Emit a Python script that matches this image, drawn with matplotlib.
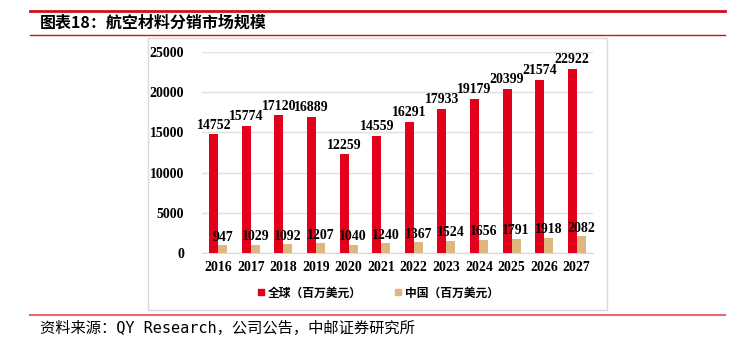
import numpy as np
import matplotlib.pyplot as plt
from matplotlib.patches import Rectangle
from matplotlib.lines import Line2D

years = ['2016', '2017', '2018', '2019', '2020', '2021', '2022', '2023', '2024', '2025', '2026', '2027']
world = [14752, 15774, 17120, 16889, 12259, 14559, 16291, 17933, 19179, 20399, 21574, 22922]
china = [947, 1029, 1092, 1207, 1040, 1240, 1367, 1524, 1656, 1791, 1918, 2082]

RED = '#E2001A'
TAN = '#DEB67E'
CJK = ['Noto Sans CJK SC', 'DejaVu Sans']
SERIF = 'Liberation Serif'

W, H = 746, 342
fig = plt.figure(figsize=(W / 100, H / 100), dpi=100)

def fx(px):
    return px / W

def fy(py):
    return 1 - py / H

# header / footer lines
fig.add_artist(Line2D([fx(30), fx(725)], [fy(10.5), fy(10.5)], color='#D0101B', lw=2))
fig.add_artist(Line2D([fx(30), fx(725)], [fy(35), fy(35)], color='#D0101B', lw=1))
fig.add_artist(Line2D([fx(30), fx(725)], [fy(315), fy(315)], color='#E36A70', lw=1.5))
fig.add_artist(Rectangle((fx(148), fy(310)), fx(607) - fx(148), fy(38) - fy(310),
                         transform=fig.transFigure, fill=False, edgecolor='#DADADA', lw=1))

fig.text(fx(40), fy(23), '图表18：航空材料分销市场规模', family=CJK, fontsize=11.5,
         fontweight='bold', va='center', ha='left')
fig.text(fx(40), fy(328), '资料来源：QY Research，公司公告，中邮证券研究所',
         family=['DejaVu Sans Mono', 'Noto Sans CJK SC'],
         fontsize=11, va='center', ha='left')

ax = fig.add_axes([fx(202), fy(253), fx(593) - fx(202), fy(52) - fy(253)])
x = np.arange(len(years))
bw = 0.276
ax.bar(x - bw / 2, world, bw, color=RED, label='全球（百万美元）', zorder=3)
ax.bar(x + bw / 2, china, bw, color=TAN, label='中国（百万美元）', zorder=3)

for i in range(len(years)):
    ax.annotate(str(world[i]), (x[i] - bw / 2, world[i]), xytext=(0, 2),
                textcoords='offset points', ha='center', va='bottom',
                family=SERIF, fontweight='bold', fontsize=10, zorder=4)
    ax.annotate(str(china[i]), (x[i] + bw / 2, china[i]), xytext=(0, 1),
                textcoords='offset points', ha='center', va='bottom',
                family=SERIF, fontweight='bold', fontsize=10, zorder=4)

ax.set_xlim(-0.5, len(years) - 0.5)
ax.set_ylim(0, 25000)
ax.set_yticks(np.arange(0, 25001, 5000))
ax.set_xticks(x)
ax.set_xticklabels(years)
for lab in ax.get_xticklabels() + ax.get_yticklabels():
    lab.set_family(SERIF)
    lab.set_fontweight('bold')
    lab.set_fontsize(10)
ax.tick_params(axis='both', length=0)
ax.tick_params(axis='y', pad=13)
ax.tick_params(axis='x', pad=6)
ax.grid(axis='y', color='#E0E0E0', lw=1, zorder=0)
for s in ['top', 'right', 'left']:
    ax.spines[s].set_visible(False)
ax.spines['bottom'].set_color('#D9D9D9')

handles = [Line2D([], [], marker='s', ls='none', color=RED, markersize=5),
           Line2D([], [], marker='s', ls='none', color=TAN, markersize=5)]
fig.legend(handles, ['全球（百万美元）', '中国（百万美元）'], loc='center',
           bbox_to_anchor=(fx(377), fy(293)), ncol=2, frameon=False,
           prop={'family': CJK, 'size': 8.5, 'weight': 'bold'},
           handletextpad=0.1, columnspacing=2.5, handlelength=1)

fig.savefig('out.png', dpi=100)
